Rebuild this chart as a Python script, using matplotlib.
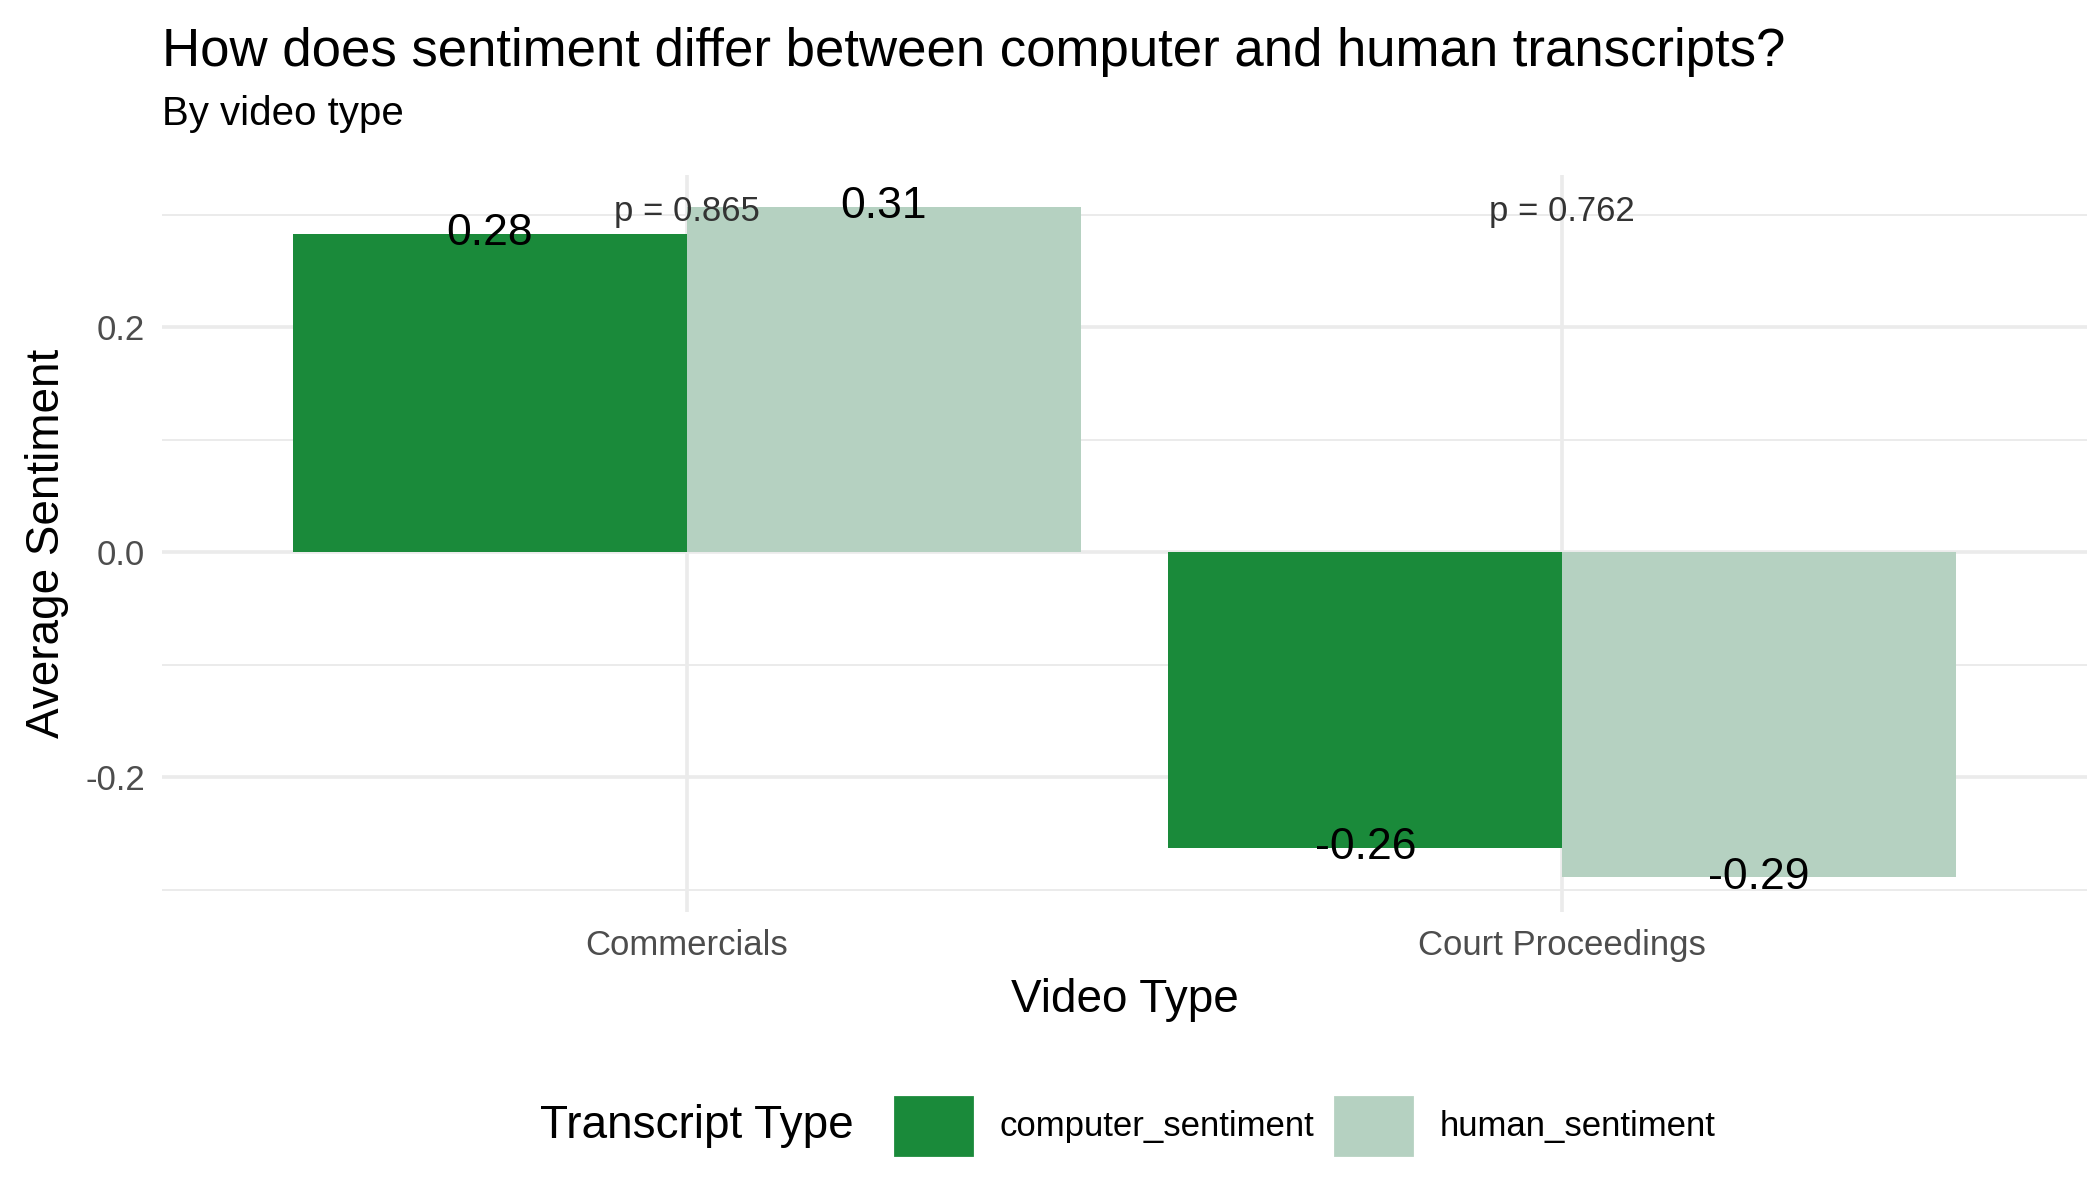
import numpy as np
import matplotlib.pyplot as plt
from matplotlib.patches import Patch
from matplotlib.offsetbox import HPacker

video_types = ['Commercials', 'Court Proceedings']
computer_sentiment = [0.283, -0.263]
human_sentiment = [0.307, -0.289]
p_values = ['p = 0.865', 'p = 0.762']
series = ['computer_sentiment', 'human_sentiment']
colors = ['#1A8A3A', '#B5D1C1']

plt.rcParams['font.family'] = ['Liberation Sans', 'DejaVu Sans']
fig = plt.figure(figsize=(10.5, 6), dpi=200)
ax = fig.add_axes([0.077, 0.24, 0.917, 0.614])

x = np.arange(1, len(video_types) + 1)
w = 0.45
ax.bar(x - w/2, computer_sentiment, w, color=colors[0], zorder=2)
ax.bar(x + w/2, human_sentiment, w, color=colors[1], zorder=2)
for i in range(len(x)):
    ax.text(x[i] - w/2, computer_sentiment[i], f"{computer_sentiment[i]:.2f}", ha='center', va='center', fontsize=16, zorder=3)
    ax.text(x[i] + w/2, human_sentiment[i], f"{human_sentiment[i]:.2f}", ha='center', va='center', fontsize=16, zorder=3)
    ax.text(x[i], 0.303, p_values[i], ha='center', va='center', fontsize=12.5, color='#333333', zorder=3)

ax.set_xlim(0.4, 2.6)
ax.set_ylim(-0.32, 0.335)
ax.set_yticks([-0.2, 0.0, 0.2])
ax.set_yticklabels(['-0.2', '0.0', '0.2'])
ax.set_yticks([-0.3, -0.1, 0.1, 0.3], minor=True)
ax.set_xticks(x)
ax.set_xticklabels(video_types)
ax.grid(True, which='major', color='#EBEBEB', lw=1.3, zorder=0)
ax.grid(True, which='minor', axis='y', color='#EBEBEB', lw=0.7, zorder=0)
ax.tick_params(which='both', length=0, labelsize=12.5, labelcolor='#4D4D4D', pad=6)
for s in ax.spines.values():
    s.set_visible(False)
ax.set_xlabel('Video Type', fontsize=16.5, labelpad=6)
ax.set_ylabel('Average Sentiment', fontsize=16.5, labelpad=6)

fig.text(0.077, 0.957, 'How does sentiment differ between computer and human transcripts?', fontsize=19, va='center')
fig.text(0.077, 0.905, 'By video type', fontsize=14.5, va='center')

handles = [Patch(color=c) for c in colors]
leg = fig.legend(handles, series, loc='center', bbox_to_anchor=(0.537, 0.062), ncol=2, frameon=False,
                 title='Transcript Type', title_fontsize=16.5, fontsize=12.5, handlelength=2.2, handleheight=2.2,
                 columnspacing=0.6, handletextpad=0.8)
# title to the left of entries
box = leg._legend_box
box.__class__ = HPacker
box.sep = 15
box.align = 'center'

fig.savefig('out.png')
